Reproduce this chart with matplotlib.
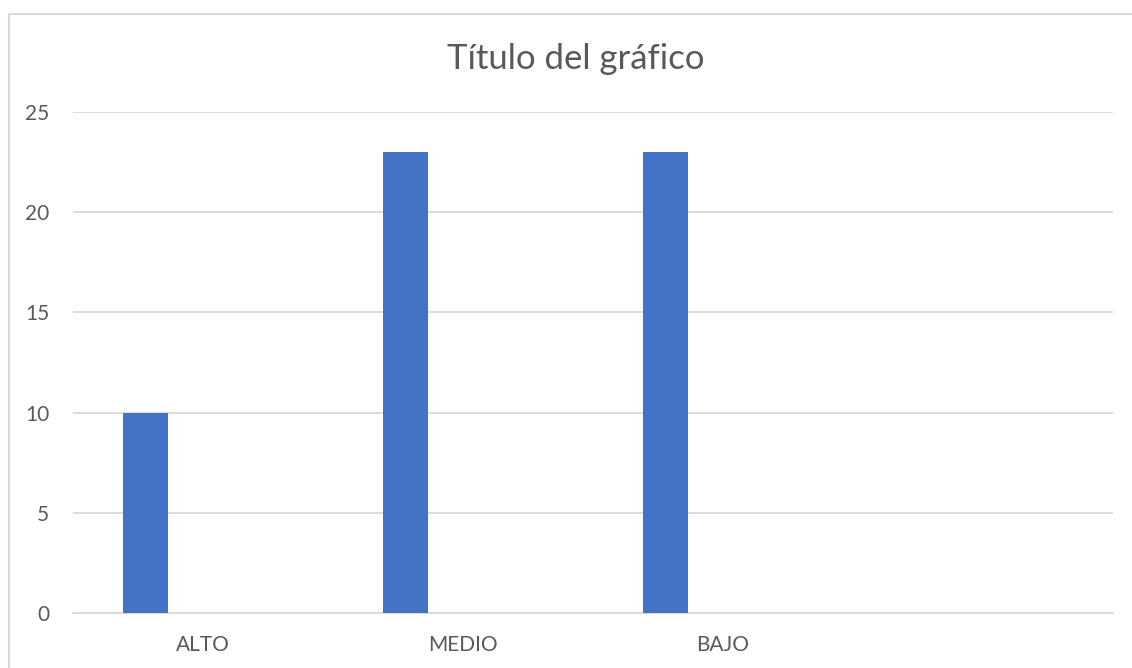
import numpy as np
import matplotlib.pyplot as plt
from matplotlib.patches import Rectangle

categorias = ["ALTO", "MEDIO", "BAJO", ""]
valores = [10, 23, 23, 0]
y_ticks = [0, 5, 10, 15, 20, 25]

plt.rcParams['font.family'] = ['Lato', 'DejaVu Sans']

fig = plt.figure(figsize=(11.32, 6.68), dpi=100)
ax = fig.add_axes([73 / 1132, 1 - 613 / 668, 1040 / 1132, 501 / 668])

x = np.arange(len(categorias))
ax.bar(x[:3] - 0.223, valores[:3], width=0.173, color='#4472C4', zorder=3)

ax.set_xlim(-0.5, len(categorias) - 0.5)
ax.set_ylim(0, 25)
ax.set_yticks(y_ticks)
ax.set_xticks(x)
ax.set_xticklabels(categorias)
ax.grid(axis='y', color='#D9D9D9', linewidth=1.3, zorder=0)
ax.tick_params(axis='both', length=0, labelsize=15, labelcolor='#595959')
ax.tick_params(axis='y', pad=17)
ax.tick_params(axis='x', pad=16)
for s in ['top', 'right', 'left']:
    ax.spines[s].set_visible(False)
ax.spines['bottom'].set_color('#D9D9D9')
ax.spines['bottom'].set_linewidth(1.3)

fig.text(576 / 1132, 1 - 59 / 668, "Título del gráfico", ha='center', va='center',
         fontsize=25, color='#595959')

# borde del grafico
fig.patches.append(Rectangle((9 / 1132, -0.1), 1.2, 1 - 14 / 668 + 0.1,
                             transform=fig.transFigure, fill=False,
                             edgecolor='#D9D9D9', linewidth=1.5))

fig.savefig('out.png', dpi=100)
